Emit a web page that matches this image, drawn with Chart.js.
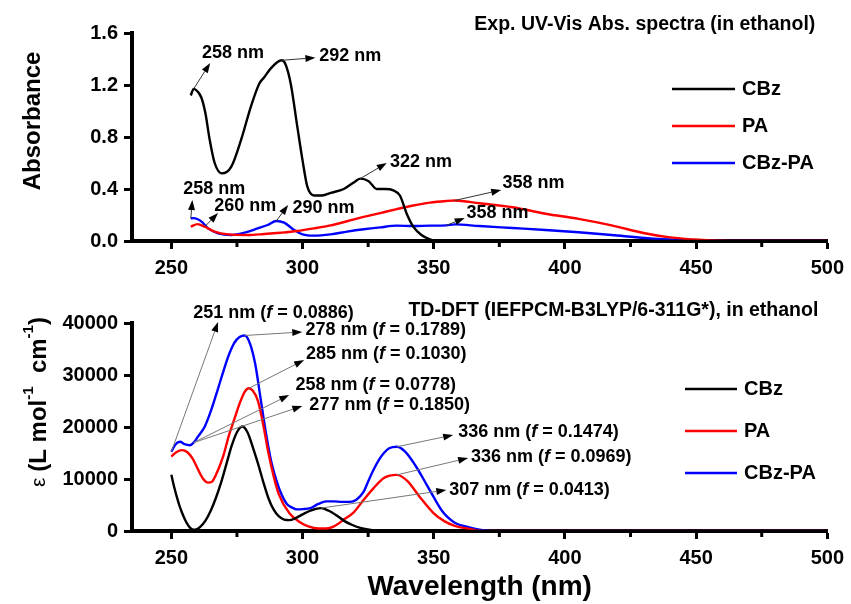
<!DOCTYPE html>
<html>
<head>
<meta charset="utf-8">
<script src="https://cdn.jsdelivr.net/npm/chart.js@4.4.1/dist/chart.umd.min.js"></script>
<style>
  body { margin: 0; background: #fff; }
  #wrap { position: relative; width: 851px; height: 604px; }
  canvas { position: absolute; left: 0; }
</style>
</head>
<body>
<div id="wrap">
  <canvas id="expChart" width="851" height="290" style="top:0"></canvas>
  <canvas id="calcChart" width="851" height="314" style="top:290px"></canvas>
</div>
<script>
const FONT = '"Liberation Sans", Arial, Helvetica, sans-serif';

// axis ticks (wavelength shared by both panels)
const xTickValues = [250, 300, 350, 400, 450, 500];
const xMinorTicks = [275, 325, 375, 425, 475];
const absTicks = [0, 0.4, 0.8, 1.2, 1.6];
const epsTicks = [0, 10000, 20000, 30000, 40000];

const seriesNames = ['CBz', 'PA', 'CBz-PA'];
const seriesColors = ['#000000', '#ff0000', '#0000ff'];

// measured UV-Vis absorbance in ethanol
const cbzExpWl = [257.4, 258.5, 260, 261.5, 263, 264.6, 266.5, 269.3, 272.8, 276.6, 280.4, 283.5, 285.4, 288, 292, 293.5, 295.5, 298, 300, 301.8, 304.4, 307.5, 310.7, 315.7, 319.5, 322, 325.2, 328.3, 331.5, 334.6, 337.1, 339.7, 342.2, 345.3, 348.5, 351, 420, 500];
const cbzExpAbs = [1.12, 1.17, 1.15, 1.10, 0.98, 0.78, 0.60, 0.52, 0.57, 0.78, 1.04, 1.21, 1.26, 1.33, 1.39, 1.36, 1.21, 0.88, 0.62, 0.42, 0.35, 0.35, 0.37, 0.40, 0.45, 0.48, 0.46, 0.40, 0.40, 0.39, 0.35, 0.21, 0.11, 0.046, 0.013, 0, 0, 0];

const paExpWl = [257.4, 260, 262.7, 266.5, 271.6, 279.1, 285.4, 291.7, 298, 304.4, 310.7, 317, 323.3, 329.6, 335.9, 342.2, 348.5, 354.8, 358, 367.4, 380, 392.6, 405.2, 417.8, 430.4, 439.3, 449.3, 455.7, 470, 500];
const paExpAbs = [0.11, 0.13, 0.11, 0.072, 0.051, 0.046, 0.054, 0.064, 0.077, 0.097, 0.12, 0.152, 0.185, 0.215, 0.245, 0.273, 0.295, 0.308, 0.312, 0.29, 0.26, 0.21, 0.17, 0.12, 0.06, 0.03, 0.012, 0.005, 0, 0];

const mixExpWl = [257.4, 258.5, 261.5, 264, 267.8, 272.8, 277.9, 282.9, 286.7, 290, 293, 296.8, 300, 304.4, 310.7, 317, 323.3, 329.6, 335.9, 342.2, 348.5, 354.8, 358, 367.4, 380, 392.6, 405.2, 417.8, 430.4, 443, 455.7, 470, 500];
const mixExpAbs = [0.174, 0.176, 0.149, 0.097, 0.059, 0.046, 0.064, 0.097, 0.123, 0.154, 0.141, 0.085, 0.051, 0.041, 0.051, 0.072, 0.09, 0.105, 0.118, 0.115, 0.118, 0.12, 0.128, 0.115, 0.10, 0.085, 0.067, 0.046, 0.023, 0.008, 0.003, 0, 0];

// TD-DFT simulated molar absorptivity
const cbzCalcWl = [250, 251, 252, 253, 254, 255, 256, 257, 258, 259, 261, 263, 265, 267, 269, 271, 273, 275, 277, 279, 281, 283, 285, 287, 289, 291, 293, 295, 297, 300, 303, 307, 310, 313, 316, 319, 322, 326, 330, 400, 500];
const cbzCalcEps = [10800, 8600, 6700, 5000, 3600, 2400, 1400, 700, 300, 250, 800, 2000, 3900, 6400, 9400, 12900, 16400, 19000, 20100, 19000, 16200, 13000, 9500, 6300, 4100, 2800, 2200, 2100, 2400, 3200, 3900, 4400, 3900, 3000, 1900, 1150, 600, 200, 0, 0, 0];

const paCalcWl = [250, 252, 254, 256, 258, 260, 262, 264, 265.5, 267, 269.7, 272, 274, 276, 278, 279.5, 281, 283, 285, 287, 289, 291, 295, 299, 302.5, 306, 309, 312, 316, 319.5, 323.3, 327, 331, 336, 340, 344.6, 349.8, 354, 358, 363.6, 368, 400, 500];
const paCalcEps = [14300, 15200, 15550, 15200, 14000, 12000, 10100, 9300, 9500, 10800, 14300, 18500, 21500, 24500, 26800, 27450, 27000, 25000, 20500, 15000, 10500, 7000, 3400, 1700, 830, 480, 480, 900, 2300, 3600, 6000, 8200, 10200, 10800, 9600, 6600, 3500, 1900, 1000, 400, 0, 0, 0];

const mixCalcWl = [250, 251.5, 253.3, 255, 257, 258.5, 260.2, 262.7, 265, 267.8, 270, 272, 274, 276, 278, 280, 282, 284, 286, 288, 290, 292, 294, 296, 298, 300, 303, 306, 309, 312, 315, 318, 320.5, 323.3, 325, 327, 329, 331, 333, 336, 339, 343, 347, 350, 353, 355, 358, 363.5, 368, 373, 400, 500];
const mixCalcEps = [15240, 16600, 17150, 16700, 16500, 17000, 18200, 20060, 23000, 27400, 31000, 34000, 36200, 37300, 37600, 36000, 32000, 25500, 19000, 13500, 9800, 7000, 5200, 4500, 4150, 4200, 4400, 5200, 5700, 5700, 5600, 5600, 6000, 7560, 9500, 11730, 13600, 15000, 15900, 16200, 15300, 12600, 9170, 6500, 4000, 2800, 1600, 700, 200, 0, 0, 0];

// peak callouts: arrow starts on a series point, ends at tip; text placed at "at"
const expNotes = [
  { text: '258 nm', from: ['CBz', 258.5], tip: [264.8, 1.37], at: [261.7, 1.446] },
  { text: '292 nm', from: ['CBz', 292], tip: [304.9, 1.41], at: [306.4, 1.423] },
  { text: '322 nm', from: ['CBz', 322], tip: [332.1, 0.60], at: [333.3, 0.608] },
  { text: '258 nm', from: ['CBz-PA', 257.4], tip: [258, 0.315], at: [254.5, 0.40] },
  { text: '260 nm', from: ['PA', 262.7], tip: [267.8, 0.215], at: [266.3, 0.269] },
  { text: '290 nm', from: ['CBz-PA', 290], tip: [294.5, 0.277], at: [296.2, 0.254] },
  { text: '358 nm', from: ['PA', 358], tip: [375.7, 0.392], at: [376.2, 0.446] },
  { text: '358 nm', from: ['CBz-PA', 354.8], tip: [361.8, 0.177], at: [362.5, 0.215] }
];

const calcNotes = [
  { text: '251 nm (*f* = 0.0886)', from: ['CBz-PA', 250], tip: [267.8, 40190], at: [258.3, 41920] },
  { text: '278 nm (*f* = 0.1789)', from: ['CBz-PA', 278], tip: [299.9, 38270], at: [301.1, 38650] },
  { text: '285 nm (*f* = 0.1030)', from: ['PA', 279.5], tip: [300.6, 32880], at: [301.3, 34040] },
  { text: '258 nm (*f* = 0.0778)', from: ['CBz-PA', 258.5], tip: [294.9, 26150], at: [297.3, 28080] },
  { text: '277 nm (*f* = 0.1850)', from: ['CBz-PA', 258.5], tip: [299.9, 24040], at: [302.6, 24230] },
  { text: '336 nm (*f* = 0.1474)', from: ['CBz-PA', 336], tip: [357.4, 18460], at: [359.3, 19040] },
  { text: '336 nm (*f* = 0.0969)', from: ['PA', 336], tip: [363.1, 14040], at: [364.2, 14230] },
  { text: '307 nm (*f* = 0.0413)', from: ['CBz', 307], tip: [354.8, 7880], at: [355.9, 7880] }
];

const toPoints = (xs, ys) => xs.map((x, i) => ({ x, y: ys[i] }));

// draw a run of text pieces with their own fonts, vertically centred on y
function drawParts(ctx, parts, x, y, align) {
  let total = 0;
  parts.forEach(p => { ctx.font = p.font; p.w = ctx.measureText(p.t).width; total += p.w; });
  let cx = align === 'center' ? x - total / 2 : align === 'right' ? x - total : x;
  ctx.textAlign = 'left';
  ctx.textBaseline = 'middle';
  parts.forEach(p => { ctx.font = p.font; ctx.fillText(p.t, cx, y + (p.dy || 0)); cx += p.w; });
}

// "*f*" marks the italic oscillator strength symbol
function richParts(text, size) {
  return text.split('*').map((t, i) => ({ t, font: (i % 2 ? 'italic ' : '') + 'bold ' + size + 'px ' + FONT }));
}

function arrow(ctx, x0, y0, x1, y1, lineColor) {
  const ang = Math.atan2(y1 - y0, x1 - x0);
  const len = 10, w = 3.5;
  const bx = x1 - len * Math.cos(ang), by = y1 - len * Math.sin(ang);
  ctx.strokeStyle = lineColor;
  ctx.lineWidth = 1;
  ctx.beginPath(); ctx.moveTo(x0, y0); ctx.lineTo(bx, by); ctx.stroke();
  ctx.fillStyle = '#000';
  ctx.beginPath();
  ctx.moveTo(x1, y1);
  ctx.lineTo(bx + w * Math.sin(ang), by - w * Math.cos(ang));
  ctx.lineTo(bx - w * Math.sin(ang), by + w * Math.cos(ang));
  ctx.closePath();
  ctx.fill();
}

const peakNotes = {
  id: 'peakNotes',
  afterDatasetsDraw(chart, args, opts) {
    const { ctx, scales: { x, y } } = chart;
    ctx.save();
    opts.items.forEach(n => {
      const ds = chart.data.datasets.find(d => d.label === n.from[0]);
      const pt = ds.data.reduce((a, b) => Math.abs(b.x - n.from[1]) < Math.abs(a.x - n.from[1]) ? b : a);
      arrow(ctx, x.getPixelForValue(pt.x), y.getPixelForValue(pt.y),
        x.getPixelForValue(n.tip[0]), y.getPixelForValue(n.tip[1]), opts.lineColor);
      ctx.fillStyle = '#000';
      drawParts(ctx, richParts(n.text, opts.size), x.getPixelForValue(n.at[0]), y.getPixelForValue(n.at[1]), 'left');
    });
    ctx.restore();
  }
};

// heading, in-plot legend, minor x ticks and the rotated y title
const panelDecor = {
  id: 'panelDecor',
  afterDraw(chart, args, opts) {
    const { ctx, chartArea: area, scales: { x } } = chart;
    ctx.save();
    ctx.fillStyle = '#000';
    drawParts(ctx, [{ t: opts.heading, font: 'bold 19.5px ' + FONT }], area.right + opts.headingDx, area.top + opts.headingDy, 'right');

    chart.data.datasets.forEach((ds, i) => {
      const ly = area.top + opts.legendY + i * opts.legendGap;
      const lx = area.left + opts.legendX;
      ctx.strokeStyle = ds.borderColor;
      ctx.lineWidth = 2.5;
      ctx.beginPath(); ctx.moveTo(lx, ly); ctx.lineTo(lx + opts.legendLen, ly); ctx.stroke();
      drawParts(ctx, [{ t: ds.label, font: 'bold 20px ' + FONT }], lx + opts.legendLen + 7, ly, 'left');
    });

    ctx.strokeStyle = '#000';
    ctx.lineWidth = 3;
    xMinorTicks.forEach(v => {
      const px = x.getPixelForValue(v);
      ctx.beginPath(); ctx.moveTo(px, area.bottom); ctx.lineTo(px, area.bottom + 6); ctx.stroke();
    });

    ctx.translate(opts.yTitleX, area.top + opts.yTitleDy);
    ctx.rotate(-Math.PI / 2);
    drawParts(ctx, opts.yTitle, 0, 0, 'center');
    ctx.restore();
  }
};

function makeDatasets(wls, vals) {
  return seriesNames.map((name, i) => ({
    label: name,
    data: toPoints(wls[i], vals[i]),
    borderColor: seriesColors[i],
    borderWidth: 2.4,
    pointRadius: 0,
    fill: false,
    cubicInterpolationMode: 'monotone'
  }));
}

function makeOptions(cfg) {
  const tickFont = { family: FONT, size: 20, weight: 'bold' };
  return {
    responsive: false,
    animation: false,
    devicePixelRatio: 1,
    layout: { padding: { left: 0, right: 19, top: 33, bottom: 0 } },
    plugins: {
      legend: { display: false },
      tooltip: { enabled: false },
      peakNotes: { items: cfg.notes, lineColor: cfg.arrowColor, size: 18 },
      panelDecor: cfg.decor
    },
    scales: {
      x: {
        type: 'linear',
        min: 235,
        max: 500,
        afterBuildTicks: s => { s.ticks = xTickValues.map(v => ({ value: v })); },
        afterFit: s => { s.height = cfg.xHeight; },
        ticks: { font: tickFont, color: '#000', padding: 7, maxRotation: 0, autoSkip: false, callback: v => String(v) },
        grid: { drawOnChartArea: false, tickLength: 8, tickWidth: 3, tickColor: '#000' },
        border: { width: 4, color: '#000' },
        title: cfg.xTitle
      },
      y: {
        type: 'linear',
        min: cfg.yTicks[0],
        max: cfg.yTicks[cfg.yTicks.length - 1],
        afterBuildTicks: s => { s.ticks = cfg.yTicks.map(v => ({ value: v })); },
        afterFit: s => { s.width = 132; },
        ticks: { font: tickFont, color: '#000', padding: 6, autoSkip: false, callback: cfg.yFormat },
        grid: { drawOnChartArea: false, tickLength: 8, tickWidth: 3, tickColor: '#000' },
        border: { width: 4, color: '#000' }
      }
    }
  };
}

new Chart(document.getElementById('expChart'), {
  type: 'line',
  data: { datasets: makeDatasets([cbzExpWl, paExpWl, mixExpWl], [cbzExpAbs, paExpAbs, mixExpAbs]) },
  options: makeOptions({
    yTicks: absTicks,
    yFormat: v => v.toFixed(1),
    xHeight: 49,
    xTitle: { display: false },
    notes: expNotes,
    arrowColor: '#333',
    decor: {
      heading: 'Exp. UV-Vis Abs. spectra (in ethanol)',
      headingDx: -12, headingDy: -8,
      legendX: 540, legendLen: 63, legendY: 56, legendGap: 37,
      yTitleX: 33, yTitleDy: 88,
      yTitle: [{ t: 'Absorbance', font: 'bold 24px ' + FONT }]
    }
  }),
  plugins: [peakNotes, panelDecor]
});

new Chart(document.getElementById('calcChart'), {
  type: 'line',
  data: { datasets: makeDatasets([cbzCalcWl, paCalcWl, mixCalcWl], [cbzCalcEps, paCalcEps, mixCalcEps]) },
  options: makeOptions({
    yTicks: epsTicks,
    yFormat: v => String(v),
    xHeight: 73,
    xTitle: {
      display: true,
      text: 'Wavelength (nm)',
      color: '#000',
      font: { family: FONT, size: 28, weight: 'bold' },
      padding: { top: 0, bottom: 0 }
    },
    notes: calcNotes,
    arrowColor: '#777',
    decor: {
      heading: 'TD-DFT (IEFPCM-B3LYP/6-311G*), in ethanol',
      headingDx: -9, headingDy: -12,
      legendX: 553, legendLen: 52, legendY: 66, legendGap: 42,
      yTitleX: 39, yTitleDy: 79,
      yTitle: [
        { t: 'ε ', font: '21px ' + FONT },
        { t: '(L mol', font: 'bold 24px ' + FONT },
        { t: '-1', font: 'bold 15px ' + FONT, dy: -10 },
        { t: '  cm', font: 'bold 24px ' + FONT },
        { t: '-1', font: 'bold 15px ' + FONT, dy: -10 },
        { t: ')', font: 'bold 24px ' + FONT }
      ]
    }
  }),
  plugins: [peakNotes, panelDecor]
});
</script>
</body>
</html>
